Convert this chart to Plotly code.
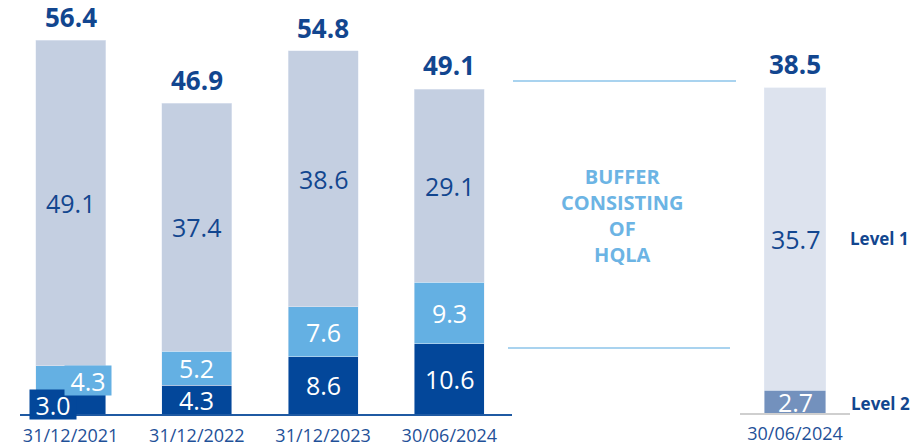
import plotly.graph_objects as go

# ---------------- data ----------------
dates_left = ["31/12/2021", "31/12/2022", "31/12/2023", "30/06/2024"]
seg_dark = [3.0, 4.3, 8.6, 10.6]
seg_mid = [4.3, 5.2, 7.6, 9.3]
seg_light = [49.1, 37.4, 38.6, 29.1]
totals_left = [56.4, 46.9, 54.8, 49.1]

dates_right = ["30/06/2024"]
level2 = [2.7]
level1 = [35.7]
totals_right = [38.5]

# ---------------- style ----------------
W, H = 918, 448
FONT = "Open Sans"
C_DARK = "#03479a"
C_MID = "#64b0e3"
C_LIGHT = "#c4cfe1"
C_R_LIGHT = "#dde3ee"
C_R_L2 = "#7391bd"
C_TEXT = "#12468f"
C_TICK = "#1f5198"
C_BUF = "#6cb4e4"
C_LINE = "#8cc4ea"
LBL = 25
TOT = 26


def px(x):
    return x / W


def py(y):
    return (H - y) / H


fig = go.Figure()

# left stacked bars
fig.add_trace(go.Bar(x=dates_left, y=seg_dark, marker_color=C_DARK, width=0.556,
                     xaxis="x", yaxis="y", hoverinfo="skip"))
fig.add_trace(go.Bar(x=dates_left, y=seg_mid, marker_color=C_MID, width=0.556,
                     xaxis="x", yaxis="y", hoverinfo="skip"))
fig.add_trace(go.Bar(x=dates_left, y=seg_light, marker_color=C_LIGHT, width=0.556,
                     xaxis="x", yaxis="y", hoverinfo="skip"))

# right stacked bar
fig.add_trace(go.Bar(x=dates_right, y=level2, marker_color=C_R_L2, width=0.555,
                     xaxis="x2", yaxis="y2", hoverinfo="skip"))
fig.add_trace(go.Bar(x=dates_right, y=level1, marker_color=C_R_LIGHT, width=0.555,
                     xaxis="x2", yaxis="y2", hoverinfo="skip"))

ann = []
# segment labels, left
for i, d in enumerate(dates_left):
    y_dark = seg_dark[i] / 2
    y_mid = seg_dark[i] + seg_mid[i] / 2
    y_light = seg_dark[i] + seg_mid[i] + seg_light[i] / 2
    if i == 0:
        ann.append(dict(x=d, y=y_dark, xref="x", yref="y", text=f"{seg_dark[i]:.1f}",
                        showarrow=False, font=dict(family=FONT, size=LBL, color="white"),
                        bgcolor=C_DARK, borderpad=0, width=46, height=29,
                        xshift=-17.5, yshift=0))
        ann.append(dict(x=d, y=y_mid, xref="x", yref="y", text=f"{seg_mid[i]:.1f}",
                        showarrow=False, font=dict(family=FONT, size=LBL, color="white"),
                        bgcolor=C_MID, borderpad=0, width=46, height=29,
                        xshift=17.5, yshift=-1))
    else:
        ann.append(dict(x=d, y=y_dark, xref="x", yref="y", text=f"{seg_dark[i]:.1f}",
                        showarrow=False, font=dict(family=FONT, size=LBL, color="white")))
        ann.append(dict(x=d, y=y_mid, xref="x", yref="y", text=f"{seg_mid[i]:.1f}",
                        showarrow=False, font=dict(family=FONT, size=LBL, color="white")))
    ann.append(dict(x=d, y=y_light, xref="x", yref="y", text=f"{seg_light[i]:.1f}",
                    showarrow=False, font=dict(family=FONT, size=LBL, color=C_TEXT)))
    ann.append(dict(x=d, y=totals_left[i], xref="x", yref="y", text=f"<b>{totals_left[i]:.1f}</b>",
                    showarrow=False, yanchor="bottom", yshift=3,
                    font=dict(family=FONT, size=TOT, color=C_TEXT)))

# right labels
for i, d in enumerate(dates_right):
    ann.append(dict(x=d, y=level2[i] / 2, xref="x2", yref="y2", text=f"{level2[i]:.1f}",
                    showarrow=False, font=dict(family=FONT, size=LBL, color="white")))
    ann.append(dict(x=d, y=level2[i] + level1[i] / 2, xref="x2", yref="y2", text=f"{level1[i]:.1f}",
                    showarrow=False, font=dict(family=FONT, size=LBL, color=C_TEXT)))
    ann.append(dict(x=d, y=totals_right[i], xref="x2", yref="y2", text=f"<b>{totals_right[i]:.1f}</b>",
                    showarrow=False, yanchor="bottom", yshift=3,
                    font=dict(family=FONT, size=TOT, color=C_TEXT)))
    ann.append(dict(x=d, y=level2[i] + level1[i] / 2, xref="x2", yref="y2", text="<b>Level 1</b>",
                    showarrow=False, xshift=84, font=dict(family=FONT, size=17, color=C_TEXT)))
    ann.append(dict(x=d, y=level2[i] / 2, xref="x2", yref="y2", text="<b>Level 2</b>",
                    showarrow=False, xshift=85, yshift=-2, font=dict(family=FONT, size=17, color=C_TEXT)))

ann.append(dict(x=px(622), y=py(216), xref="paper", yref="paper", xanchor="center", yanchor="middle",
                text="<b>BUFFER<br>CONSISTING<br>OF<br>HQLA</b>", showarrow=False,
                align="center", font=dict(family=FONT, size=20, color=C_BUF)))

shapes = [
    dict(type="line", xref="paper", yref="paper", x0=px(513), x1=px(736), y0=py(81), y1=py(81),
         line=dict(color=C_LINE, width=1.5)),
    dict(type="line", xref="paper", yref="paper", x0=px(508), x1=px(730), y0=py(348), y1=py(348),
         line=dict(color=C_LINE, width=1.5)),
]

fig.update_layout(
    width=W, height=H,
    margin=dict(l=0, r=0, t=0, b=0),
    paper_bgcolor="white", plot_bgcolor="white",
    barmode="stack", showlegend=False,
    annotations=ann, shapes=shapes,
    font=dict(family=FONT),
    xaxis=dict(domain=[px(20), px(512)], range=[-0.401, 3.496], type="category",
               showline=True, linecolor="#1f5aa3", linewidth=2, showgrid=False,
               ticks="", ticklabelstandoff=4,
               tickfont=dict(family=FONT, size=18, color=C_TICK),
               automargin=False, fixedrange=True),
    yaxis=dict(domain=[py(414), 1], range=[0, 414 / 6.63], visible=False, fixedrange=True),
    xaxis2=dict(domain=[px(740), px(850)], range=[-0.5, 0.5], type="category", anchor="y2",
                showline=True, linecolor="#cfcfcf", linewidth=2, showgrid=False,
                ticks="", ticklabelstandoff=3,
                tickfont=dict(family=FONT, size=18, color=C_TICK),
                automargin=False, fixedrange=True),
    yaxis2=dict(domain=[py(413), 1], range=[0, 413 / 8.47], visible=False,
                anchor="x2", fixedrange=True),
)

fig.write_html("out.html", config={"displayModeBar": False},
               post_script="document.body.style.margin='0';document.body.style.overflow='hidden';")
